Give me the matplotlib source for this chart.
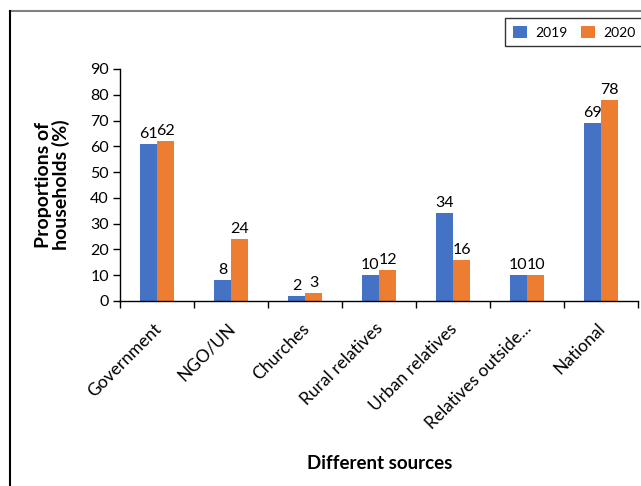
import numpy as np
import matplotlib.pyplot as plt
import matplotlib.transforms as mtransforms
from matplotlib.lines import Line2D

plt.rcParams['font.family'] = ['Lato', 'DejaVu Sans']

# Data
sources = ['Government', 'NGO/UN', 'Churches', 'Rural relatives',
           'Urban relatives', 'Relatives outside...', 'National']
vals_2019 = [61, 8, 2, 10, 34, 10, 69]
vals_2020 = [62, 24, 3, 12, 16, 10, 78]

blue = '#4472C4'
orange = '#ED7D31'

fig = plt.figure(figsize=(6.41, 4.86), dpi=100)
ax = fig.add_axes([120 / 641, 1 - 301 / 486, 518 / 641, 232 / 486])

x = np.arange(len(sources))
w = 0.23
b1 = ax.bar(x - w / 2, vals_2019, w, color=blue, label='2019')
b2 = ax.bar(x + w / 2, vals_2020, w, color=orange, label='2020')

for bars in (b1, b2):
    for r in bars:
        ax.text(r.get_x() + r.get_width() / 2, r.get_height() + 1.2,
                f'{int(r.get_height())}', ha='center', va='bottom', fontsize=11.5)

ax.set_xlim(-0.5, len(sources) - 0.5)
ax.set_ylim(0, 90)
ax.set_yticks(range(0, 91, 10))
ax.tick_params(axis='y', labelsize=11.5, length=5, width=1, pad=3)

# boundary ticks like Excel, labels at centres
ax.set_xticks(np.arange(len(sources) + 1) - 0.5)
ax.set_xticklabels([])
ax.tick_params(axis='x', length=5, width=1)
ax.set_xticks(x, minor=True)
ax.set_xticklabels(sources, minor=True, rotation=45, ha='right',
                   rotation_mode='anchor', fontsize=12.5)
ax.tick_params(axis='x', which='minor', length=0, pad=14)
shift = mtransforms.ScaledTranslation(-4 / 100, 0, fig.dpi_scale_trans)
for lab in ax.get_xticklabels(minor=True):
    lab.set_transform(lab.get_transform() + shift)

for s in ['top', 'right']:
    ax.spines[s].set_visible(False)
for s in ['left', 'bottom']:
    ax.spines[s].set_color('black')
    ax.spines[s].set_linewidth(1)

ax.set_ylabel('Proportions of\nhouseholds (%)', fontsize=14, fontweight='bold',
              linespacing=1.0)
ax.yaxis.set_label_coords(-0.097, 0.5)
fig.text(380 / 641, 1 - 463 / 486, 'Different sources', ha='center', va='center',
         fontsize=13.5, fontweight='bold')

leg = fig.legend(loc='upper left', bbox_to_anchor=(505 / 641, 1 - 18 / 486),
                 ncol=2, fontsize=10, frameon=True, fancybox=False,
                 handlelength=1.0, handleheight=1.0, columnspacing=1.0,
                 handletextpad=0.6, borderpad=0.55, borderaxespad=0)
leg.get_frame().set_edgecolor('black')
leg.get_frame().set_linewidth(1)

# outer frame lines
fig.add_artist(Line2D([10 / 641, 1], [1 - 11 / 486] * 2, color='#808080', lw=1.5))
fig.add_artist(Line2D([10 / 641] * 2, [0, 1 - 11 / 486], color='black', lw=1.5))

fig.savefig('out.png', dpi=100)
